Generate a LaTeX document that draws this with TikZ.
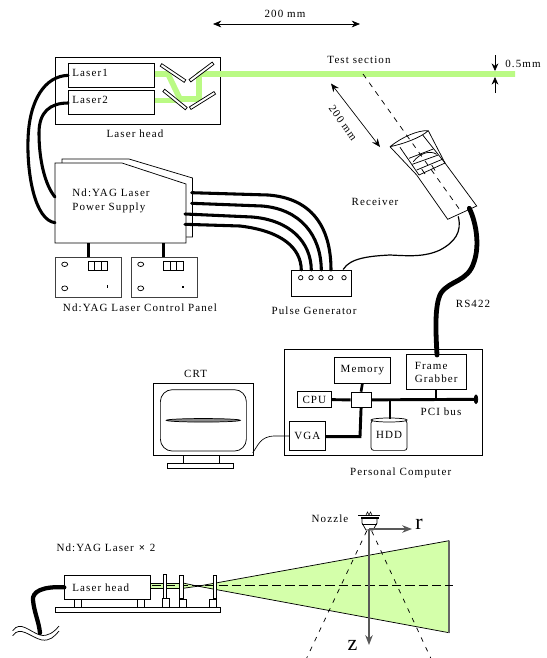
\documentclass[tikz,border=0pt]{standalone}
\usepackage{fontspec}
\setmainfont[LetterSpace=10]{Liberation Serif}
\usetikzlibrary{shapes.geometric, arrows.meta, positioning, calc}
\definecolor{beamgreen}{HTML}{BAFA84}
\definecolor{fangreen}{HTML}{D4FFAA}
\tikzset{
	sz/.style 2 args={minimum width=#1*0.75pt, minimum height=#2*0.75pt, inner sep=0pt},
	box/.style={rectangle, draw, fill=white, align=left, anchor=north west},
	mirror/.style={rectangle, draw, fill=white, sz={29}{3}},
	lbl/.style={inner sep=0pt, align=left},
	cable/.style={line width=2.3pt, line cap=round},
	fatcable/.style={line width=3.8pt, line cap=round},
	stem/.style={line width=2.5pt},
	bus/.style={line width=2.2pt},
	dim/.style={{Stealth[length=2.2mm, width=1.8mm]}-{Stealth[length=2.2mm, width=1.8mm]}, line width=0.5pt},
	beam/.style={beamgreen, line width=4.2pt},
	gaxis/.style={-{Stealth[length=2.6mm, width=2mm]}, line width=0.8pt, black!65},
	bigl/.style={inner sep=0pt, font=\fontsize{16.5}{18}\selectfont}
}
\begin{document}
\begin{tikzpicture}[x=0.75pt, y=-0.75pt, line width=0.55pt, font=\fontsize{8.25}{10}\selectfont]
	\useasboundingbox (0,0) rectangle (547,658);

	% top dimension
	\coordinate (spanl) at (213,24);
	\coordinate (spanr) at (360,24);
	\draw[dim] (spanl) -- (spanr);
	\node[lbl] (spanlbl) at (285,14) {200 mm};

	% laser head and beam
	\node[box, sz={165}{67}] (head) at (55,57) {};
	\draw[beam, line join=round] (154,74) -- (168,74) -- (180,99) -- (199,99) -- (199,74) -- (515,74);
	\draw[beam] (154,100.5) -- (178,100.5);
	\node[box, sz={86}{24}] (lasera) at (68,63) {};
	\node[box, sz={86}{24}] (laserb) at (68,90) {};
	\node[lbl, anchor=west] (laseralbl) at (72,72.5) {Laser1};
	\node[lbl, anchor=west] (laserblbl) at (72,99.5) {Laser2};
	\node[mirror, rotate=-34] (mira) at (173,73) {};
	\node[mirror, rotate=37] (mirb) at (201.5,72) {};
	\node[mirror, rotate=-39] (mirc) at (175,99.5) {};
	\node[mirror, rotate=32] (mird) at (202.5,100.5) {};
	\node[lbl] (headlbl) at (135,134) {Laser head};

	% test section
	\node[lbl] (testlbl) at (359,60) {Test section};
	\draw[-{Stealth[length=2mm, width=1.8mm]}] (495,55) -- (495,71);
	\draw[-{Stealth[length=2mm, width=1.8mm]}] (495,93) -- (495,77);
	\node[lbl] (gaplbl) at (523,64) {0.5mm};
	\coordinate (distu) at (331,83.5);
	\coordinate (distd) at (380,147);
	\draw[dim] (distu) -- (distd);
	\node[lbl, rotate=-55] (distlbl) at (343,123) {200 mm};

	% receiver
	\draw[line join=round] (390,146.7) .. controls (402,137) and (418,130) .. (428.3,130.7) .. controls (420,138) and (403,144) .. (390,146.7);
	\draw (390,146.7) -- (416.7,175) -- (447.7,219.3) -- (476.7,206) -- (445,163) -- (428.3,130.7);
	\draw (400,147.3) -- (419,175);
	\draw (422.7,135) -- (445,163);
	\draw (409,158.3) -- (433.3,149);
	\draw (412.3,164.3) -- (438.3,155);
	\draw (416.7,170) -- (443,159);
	\draw (419,175) -- (445,163);
	\draw (413.3,161.7) .. controls (420,153) and (430,150) .. (436.7,154.3);
	\draw (421.7,169) -- (425,174);
	\draw (431.7,165) -- (435,170.5);
	\draw[dash pattern=on 4pt off 4pt] (363,74) -- (460,210);
	\node[lbl] (reclbl) at (375,202) {Receiver};
	\coordinate (recthin) at (458.3,216.7);
	\coordinate (recfat) at (469.3,208.3);

	% power supply
	\draw[fill=white] (62,163) -- (62,159) -- (129,159) -- (192.5,178) -- (192.5,237) -- (186,237);
	\draw[fill=white] (55,163) -- (122,163) -- (186,184) -- (186,243) -- (55,243) -- cycle;
	\node[lbl, anchor=west] (psulbl) at (72,201) {Nd:YAG Laser\\Power Supply};
	\coordinate (psua) at (55,197);
	\coordinate (psub) at (55,222.7);
	\coordinate (psuc) at (191.7,192.7);
	\coordinate (psud) at (191.7,203.3);
	\coordinate (psue) at (185,214);
	\coordinate (psuf) at (185,224.3);
	\coordinate (psug) at (88.3,243);
	\coordinate (psuh) at (163.7,243);
	\draw[cable] (lasera.west) .. controls (45,76) and (29,100) .. (28,140) .. controls (27,175) and (35,220) .. (psub);
	\draw[cable] (laserb.west |- 0,103) .. controls (50,103) and (39,112) .. (39,133) .. controls (39,160) and (45,185) .. (psua);

	% control panels
	\node[box, sz={65.7}{40}, draw=black!75] (pnla) at (55,256.7) {};
	\node[box, sz={66.3}{40}, draw=black!75] (pnlb) at (130.7,256.7) {};
	\draw[stem] (psug) -- (psug |- pnla.north);
	\draw[stem] (psuh) -- (psuh |- pnlb.north);
	\draw (64.7,264.3) ellipse (3 and 2.2);
	\draw (64.7,288.3) ellipse (3 and 2.4);
	\draw (88.3,261.7) rectangle (107.7,270);
	\draw (94.8,261.7) -- (94.8,270);
	\draw (101.3,261.7) -- (101.3,270);
	\draw[line width=0.9pt] (107.3,285) -- (107.3,288.3);
	\draw (140.7,264.3) ellipse (3 and 2.2);
	\draw (140.7,288.3) ellipse (3 and 2.4);
	\draw (163.3,261.7) rectangle (183.3,270);
	\draw (170,261.7) -- (170,270);
	\draw (176.7,261.7) -- (176.7,270);
	\draw[line width=0.9pt] (183,286) -- (183,288.3);
	\node[lbl] (pnllbl) at (140,308) {Nd:YAG Laser Control Panel};

	% pulse generator
	\node[box, sz={59.7}{25.7}] (pulse) at (291,270) {};
	\draw (300.7,277.7) circle (2.2);
	\draw (311,277.7) circle (2.2);
	\draw (321,277.7) circle (2.2);
	\draw (330.7,277.7) circle (2.2);
	\draw (344,277.7) circle (2.2);
	\node[lbl] (pulselbl) at (314,311) {Pulse Generator};
	\draw[cable] (psuc) -- (268,195) .. controls (310,198) and (331,225) .. (331,270);
	\draw[cable] (psud) -- (262,206) .. controls (300,209) and (321,235) .. (321.3,270);
	\draw[cable] (psue) -- (252,217) .. controls (290,220) and (311,242) .. (311.3,270);
	\draw[cable] (psuf) -- (240,226) .. controls (282,231) and (301,248) .. (301.3,270);
	\draw[line width=0.9pt, line cap=round] (343.3,269.3) .. controls (350,258) and (370,256) .. (390,255) .. controls (410,256) and (425,257) .. (440,250) .. controls (455,242) and (462,232) .. (recthin);

	% personal computer
	\node[box, sz={197.4}{106}] (pc) at (284.3,349) {};
	\node[box, sz={56}{26.3}, align=center] (mem) at (334,356.7) {Memory};
	\node[box, sz={59.7}{35}] (grab) at (406,354.3) {Frame\\Grabber};
	\node[box, sz={33.4}{16}, align=center] (cpu) at (297.3,391.3) {CPU};
	\node[box, sz={20}{15.6}] (hub) at (350.7,391.7) {};
	\node[box, sz={36}{29}, align=center] (vga) at (289,421) {VGA};
	\node[box, sz={36}{30}, rounded corners=2pt, align=center] (hdd) at (370.7,420) {HDD};
	\draw[fill=white] (hdd.north) ellipse (18 and 2);
	\coordinate (busend) at (476,399.3);
	\coordinate (bustap) at (390,399.3);
	\coordinate (grabtap) at (435.7,399.3);
	\coordinate (vgacorner) at (360,436.7);
	\draw[bus] (hub.east) -- (busend);
	\draw[fill] (busend) ellipse (1.8 and 4.3);
	\draw[bus] (bustap) -- (390,418.5);
	\draw[stem, line width=1.6pt] (grabtap) -- (grabtap |- grab.south);
	\draw[stem, line width=2pt] (mem.south) -- (hub.north);
	\draw[bus] (cpu.east) -- (hub.west);
	\draw[bus] (hub.south) -- (vgacorner) -- (vga.east |- vgacorner);
	\node[lbl] (buslbl) at (441,412) {PCI bus};
	\node[lbl] (pclbl) at (400.7,473.3) {Personal Computer};
	\draw[line width=3.6pt, line cap=round] (recfat) .. controls (476,222) and (480,245) .. (474,262) .. controls (468,282) and (450,280) .. (441,293) .. controls (434,305) and (436,335) .. (437,355);
	\node[lbl] (rslbl) at (473,304) {RS422};

	% crt
	\node[box, sz={99.4}{71.7}] (crt) at (153.3,383.3) {};
	\node[box, sz={86}{61.4}, rounded corners=9pt] (screen) at (160,389.3) {};
	\node[ellipse, draw, fill=black!45, sz={74}{3.5}] (trace) at (203.3,420.3) {};
	\node[box, sz={36}{7.7}] (neck) at (183.3,455) {};
	\node[box, sz={66}{5.6}] (foot) at (166.7,462.7) {};
	\node[lbl] (crtlbl) at (195.7,374) {CRT};
	\draw[line width=0.5pt] (252.7,452.7) .. controls (258,446) and (260,436) .. (275,436) -- (vga.west |- 0,436);

	% lower part
	\node[lbl] (yaglbl) at (106,547.3) {Nd:YAG Laser \textbf{×} 2};
	\draw[fill=fangreen] (198,586.2) -- (449,540.7) -- (449,632.7) -- cycle;
	\draw[black!60, line width=1pt] (449,540.7) -- (449,632.7);
	\draw[fill=fangreen] (150,583) rectangle (183,588.3);
	\draw[fill=fangreen] (183,583) -- (198,586.2) -- (183,588.3) -- cycle;
	\draw[line width=0.8pt, dash pattern=on 7pt off 3pt] (152,585.5) -- (453,585.5);

	\node[box, sz={165}{5.6}] (rail) at (55,606.7) {};
	\node[box, sz={7.3}{7.7}] (foota) at (74,599) {};
	\node[box, sz={7.3}{7.7}] (footb) at (136.7,599) {};
	\node[box, sz={86}{24}] (minihead) at (64.3,575) {};
	\node[lbl, anchor=west] (miniheadlbl) at (72,587.5) {Laser head};
	\node[box, sz={2.7}{24.3}] (lensa) at (163,574) {};
	\node[box, sz={6.7}{8.4}] (lensafoot) at (162.3,598.3) {};
	\node[box, sz={3.7}{23}] (lensb) at (179.3,575) {};
	\node[box, sz={7}{7.7}] (lensbfoot) at (179.3,599) {};
	\node[box, sz={3.6}{23}] (lensc) at (212.7,575) {};
	\node[box, sz={7.3}{7.7}] (lenscfoot) at (209,599) {};

	\draw (12.7,630.7) .. controls (20,620) and (30,632) .. (40,635) .. controls (48,637) and (54,632) .. (59,626);
	\draw (12.7,635.7) .. controls (20,625) and (30,637) .. (41.7,640) .. controls (50,641) and (54,637) .. (59,631);
	\draw[line width=3.2pt, line cap=round] (minihead.west) .. controls (42,586) and (32,592) .. (33,600) .. controls (34,612) and (39,622) .. (40,633);

	% nozzle and axes
	\node[lbl] (nozlbl) at (330,518.7) {Nozzle};
	\draw (358.3,515) -- (380,515);
	\draw[line width=0.4pt] (366,515) -- (367.5,512) -- (369,515) -- (370.5,512) -- (372,515);
	\draw[line width=1.3pt] (361,518) -- (379,518);
	\draw (362,518) -- (362,523) -- (366,530) -- (373,530) -- (377,523) -- (377,518);
	\draw (362,524) -- (377,524);
	\coordinate (nozo) at (369,529);
	\coordinate (raxis) at (412,529);
	\coordinate (zaxis) at (369,645);
	\draw[gaxis] (nozo) -- (raxis);
	\draw[gaxis] (nozo) -- (zaxis);
	\node[bigl] (rlbl) at (419,524.5) {r};
	\node[bigl] (zlbl) at (352.5,645) {z};
	\draw[dash pattern=on 3.5pt off 4.5pt] (366.7,531) -- (306.7,658);
	\draw[dash pattern=on 3.5pt off 4.5pt] (371.7,531) -- (430.7,658);
\end{tikzpicture}
\end{document}
